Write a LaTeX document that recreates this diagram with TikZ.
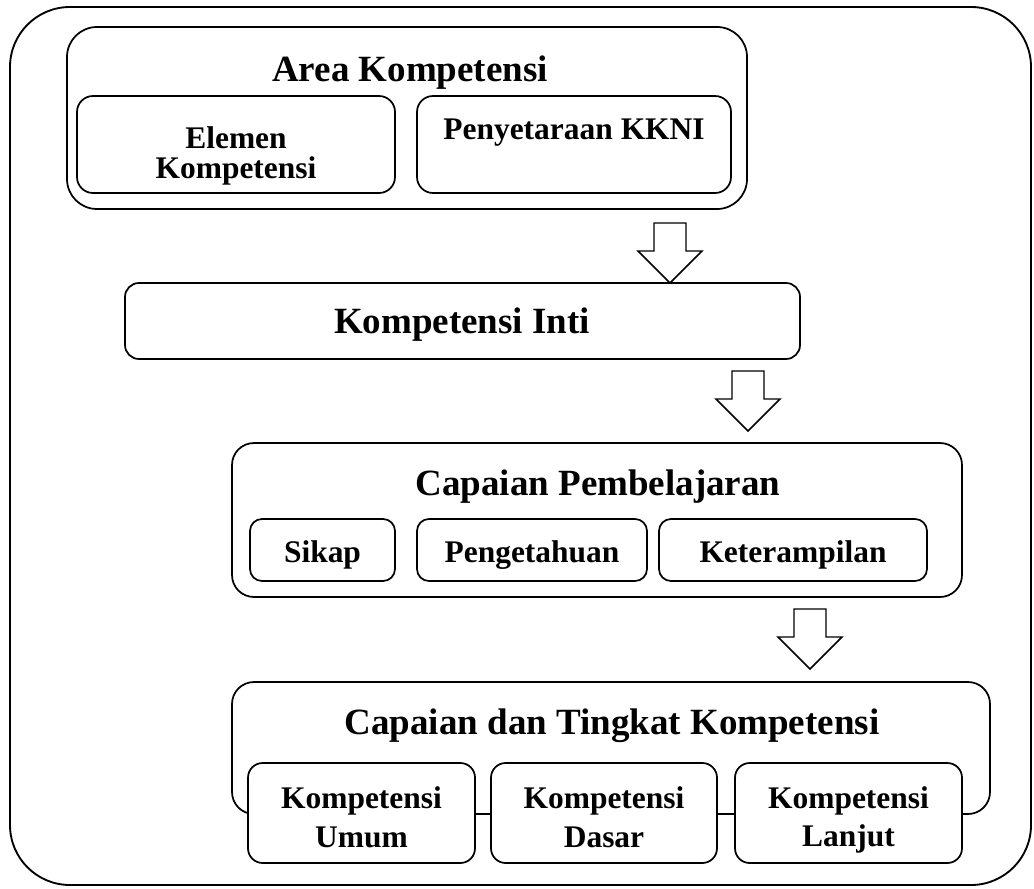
\documentclass[tikz,border=0pt]{standalone}
\usepackage{fontspec}
\setmainfont{Liberation Serif}
\usetikzlibrary{fit}
\tikzset{frame/.style = {draw, line width=1.4pt, rounded corners=45pt, inner sep=0pt},
         box/.style = {draw, line width=1.3pt, fill=white, inner sep=0pt},
         heading/.style = {font=\bfseries\fontsize{27.75}{33}\selectfont, anchor=base},
         subtext/.style = {font=\bfseries\fontsize{23.6}{29}\selectfont, align=center, inner sep=0pt},
         fatarrow/.style = {draw, line width=1.1pt, fill=white, line join=miter}}
\newcommand{\blockarrow}[2]{%
  \draw [fatarrow] (#1-16,#2) -- (#1+16,#2) -- (#1+16,#2+28) -- (#1+32,#2+28)
    -- (#1,#2+60) -- (#1-32,#2+28) -- (#1-16,#2+28) -- cycle;}

\begin{document}
\begin{tikzpicture}[x=0.75pt, y=-0.75pt]
      \useasboundingbox (0,0) rectangle (1034,888);
      \node [frame, fit={(10,7) (1031,885)}] (outer) {};
      % area kompetensi
      \node [box, rounded corners=22.5pt, fit={(67,27) (747,209)}] (area) {};
      \node [heading] (areatitle) at (410,82) {Area Kompetensi};
      \node [box, rounded corners=12pt, fit={(77,96) (395,193)}] (elemen) {};
      \node [subtext, font=\bfseries\fontsize{23.6}{23}\selectfont] (elementext) at (236,156) {Elemen\\Kompetensi};
      \node [box, rounded corners=12pt, fit={(417,96) (731,193)}] (kkni) {};
      \node [subtext, anchor=base] (kknitext) at (574,140) {Penyetaraan KKNI};
      \blockarrow{670}{223}
      % kompetensi inti
      \node [box, rounded corners=10.5pt, fit={(125,283) (800,359)}] (inti) {};
      \node [heading] (intititle) at (462,333) {Kompetensi Inti};
      \blockarrow{748}{371}
      % capaian pembelajaran
      \node [box, rounded corners=16.5pt, fit={(232,443) (962,597)}] (capaian) {};
      \node [heading] (capaiantitle) at (598,495) {Capaian Pembelajaran};
      \foreach \name/\xa/\xb/\txt in {sikap/250/395/Sikap, tahu/417/647/Pengetahuan, terampil/659/927/Keterampilan}{
      \node [box, rounded corners=9pt, fit={(\xa,519) (\xb,581)}] (\name) {};
      \node [subtext, anchor=base] (\name text) at ({(\xa+\xb)/2},562) {\txt};}
      \blockarrow{810}{609}
      % capaian dan tingkat kompetensi
      \node [box, rounded corners=16.5pt, fit={(232,682) (990,814)}] (tingkat) {};
      \node [heading] (tingkattitle) at (612,734) {Capaian dan Tingkat Kompetensi};
      \foreach \name/\xa/\xb/\ty/\txt in {umum/248/475/817/Umum, dasar/491/717/817/Dasar, lanjut/735/962/820/Lanjut}{
      \node [box, rounded corners=11pt, fit={(\xa,763) (\xb,863)}] (\name) {};
      \node [subtext] (\name text) at ({(\xa+\xb)/2},\ty) {Kompetensi\\\txt};}
    \end{tikzpicture}
\end{document}
